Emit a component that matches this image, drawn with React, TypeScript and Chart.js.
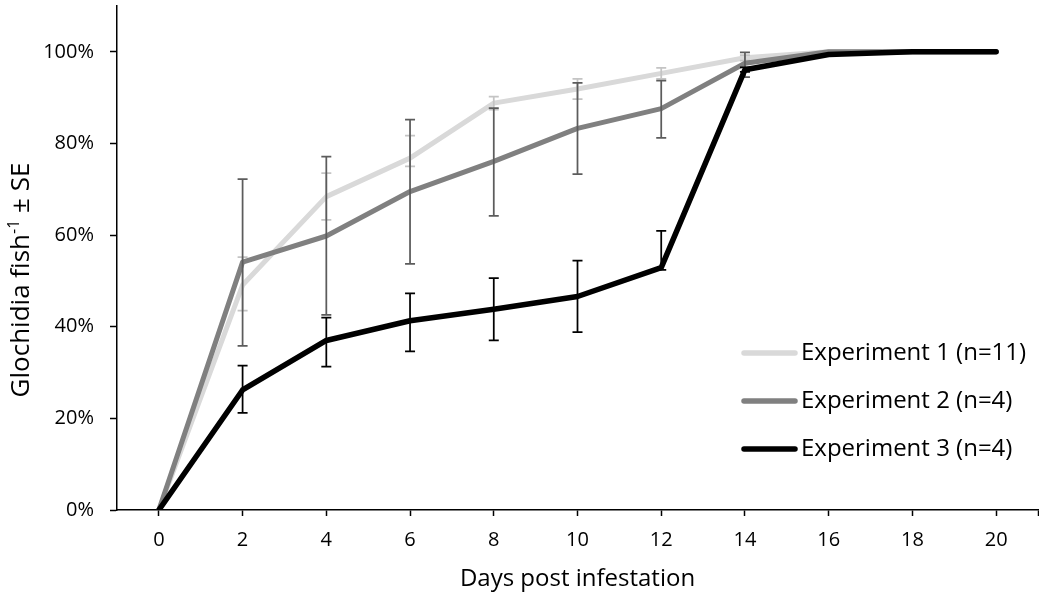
import React, { useEffect, useRef } from 'react';
import { Chart, registerables } from 'chart.js';

Chart.register(...registerables);

// ---- data ----
const days = [0, 2, 4, 6, 8, 10, 12, 14, 16, 18, 20];
const xTickValues = [0, 2, 4, 6, 8, 10, 12, 14, 16, 18, 20];
const yTickValues = [0, 20, 40, 60, 80, 100];
const seriesLabels = ['Experiment 1 (n=11)', 'Experiment 2 (n=4)', 'Experiment 3 (n=4)'];

const exp1Mean = [0, 49.1, 68.4, 76.8, 88.8, 91.9, 95.3, 98.7, 100, 100, 100];
const exp1Up = [0, 6.1, 5.1, 4.9, 1.4, 2.2, 1.2, 0.6, 0, 0, 0];
const exp1Down = [0, 5.6, 5.1, 1.8, 1.4, 2.2, 1.2, 0.6, 0, 0, 0];

const exp2Mean = [0, 54.1, 59.8, 69.5, 76.1, 83.3, 87.6, 97.5, 100, 100, 100];
const exp2Up = [0, 18.1, 17.3, 15.7, 11.6, 9.9, 6.1, 2.4, 0, 0, 0];
const exp2Down = [0, 18.3, 17.2, 15.8, 11.9, 10.0, 6.4, 3.0, 0, 0, 0];

const exp3Mean = [0, 26.2, 37.0, 41.3, 43.8, 46.6, 52.9, 96.1, 99.4, 100, 100];
const exp3Up = [0, 5.3, 5.0, 6.0, 6.8, 7.8, 8.0, 0.5, 0, 0, 0];
const exp3Down = [0, 5.0, 5.7, 6.7, 6.8, 7.8, 0.5, 0.5, 0, 0, 0];

const xTitle = 'Days post infestation';
const yTitleMain = 'Glochidia fish';
const yTitleSup = '-1';
const yTitleEnd = ' \u00B1 SE';

// ---- styles ----
const FONT = '"Open Sans", "Noto Sans", sans-serif';
const lineColors = ['#d9d9d9', '#808080', '#000000'];
const errColors = ['#c4c4c4', '#5c5c5c', '#000000'];

const errorBarPlugin = {
  id: 'errorBars',
  afterDatasetDraw(chart: any, args: any) {
    const ds = chart.data.datasets[args.index];
    const up: number[] = ds.errUp;
    const down: number[] = ds.errDown;
    if (!up) return;
    const xs = chart.scales.x;
    const ys = chart.scales.y;
    const ctx = chart.ctx;
    ctx.save();
    ctx.strokeStyle = ds.errColor;
    ctx.lineWidth = 1.75;
    ds.data.forEach((p: any, i: number) => {
      if (!up[i] && !down[i]) return;
      const px = xs.getPixelForValue(p.x);
      const yT = ys.getPixelForValue(p.y + up[i]);
      const yB = ys.getPixelForValue(p.y - down[i]);
      ctx.beginPath();
      ctx.moveTo(px, yT);
      ctx.lineTo(px, yB);
      ctx.moveTo(px - 5, yT);
      ctx.lineTo(px + 5, yT);
      ctx.moveTo(px - 5, yB);
      ctx.lineTo(px + 5, yB);
      ctx.stroke();
    });
    ctx.restore();
  },
};

const legendPlugin = {
  id: 'customLegend',
  afterDraw(chart: any) {
    const ctx = chart.ctx;
    ctx.save();
    chart.data.datasets.forEach((ds: any, i: number) => {
      const y = 353 + i * 48;
      ctx.strokeStyle = ds.borderColor;
      ctx.lineWidth = 5.5;
      ctx.lineCap = 'round';
      ctx.beginPath();
      ctx.moveTo(744, y);
      ctx.lineTo(795, y);
      ctx.stroke();
      ctx.fillStyle = '#000';
      ctx.font = `24px ${FONT}`;
      ctx.textBaseline = 'middle';
      ctx.textAlign = 'left';
      ctx.fillText(ds.label, 801, y);
    });
    ctx.restore();
  },
};

const yTitlePlugin = {
  id: 'yTitle',
  afterDraw(chart: any) {
    const ctx = chart.ctx;
    ctx.save();
    ctx.translate(22, 280);
    ctx.rotate(-Math.PI / 2);
    ctx.fillStyle = '#000';
    ctx.textBaseline = 'middle';
    ctx.textAlign = 'left';
    const big = `26px ${FONT}`;
    const small = `16px ${FONT}`;
    ctx.font = big;
    const w1 = ctx.measureText(yTitleMain).width;
    const w3 = ctx.measureText(yTitleEnd).width;
    ctx.font = small;
    const w2 = ctx.measureText(yTitleSup).width;
    const total = w1 + w2 + w3;
    let x = -total / 2;
    ctx.font = big;
    ctx.fillText(yTitleMain, x, 0);
    x += w1;
    ctx.font = small;
    ctx.fillText(yTitleSup, x, -8);
    x += w2;
    ctx.font = big;
    ctx.fillText(yTitleEnd, x, 0);
    ctx.restore();
  },
};

function makeDataset(label: string, mean: number[], up: number[], down: number[], i: number, order: number) {
  return {
    label,
    data: days.map((d, k) => ({ x: d, y: mean[k] })),
    borderColor: lineColors[i],
    backgroundColor: lineColors[i],
    borderWidth: i === 2 ? 5.5 : 5,
    pointRadius: 0,
    tension: 0,
    borderJoinStyle: 'round',
    borderCapStyle: 'round',
    order,
    errUp: up,
    errDown: down,
    errColor: errColors[i],
  };
}

export default function App() {
  const ref = useRef<HTMLCanvasElement | null>(null);
  useEffect(() => {
    if (!ref.current) return;
    const chart = new Chart(ref.current, {
      type: 'line',
      data: {
        datasets: [
          makeDataset(seriesLabels[0], exp1Mean, exp1Up, exp1Down, 0, 3),
          makeDataset(seriesLabels[1], exp2Mean, exp2Up, exp2Down, 1, 2),
          makeDataset(seriesLabels[2], exp3Mean, exp3Up, exp3Down, 2, 1),
        ] as any,
      },
      options: {
        animation: false,
        responsive: false,
        devicePixelRatio: 1,
        layout: { padding: { top: 6, right: 1, left: 0, bottom: 0 } },
        plugins: { legend: { display: false }, tooltip: { enabled: false } },
        scales: {
          x: {
            type: 'linear',
            min: -1,
            max: 21,
            afterBuildTicks: (s: any) => {
              s.ticks = [...xTickValues, 21].map((v) => ({ value: v }));
            },
            afterFit: (s: any) => {
              s.height = 89;
              s.paddingLeft = 0;
              s.paddingRight = 0;
              s.paddingTop = 0;
              s.paddingBottom = 0;
            },
            ticks: {
              autoSkip: false,
              maxRotation: 0,
              padding: 12,
              color: '#000',
              font: { family: FONT, size: 20 },
              callback: (v: any) => (xTickValues.includes(v) ? String(v) : ''),
            },
            grid: { drawOnChartArea: false, drawTicks: true, tickLength: 6, tickColor: '#000', tickWidth: 1.5 },
            border: { display: true, color: '#000', width: 1.5 },
            title: {
              display: true,
              text: xTitle,
              color: '#000',
              font: { family: FONT, size: 24 },
              padding: { top: 0, bottom: 5 },
            },
          },
          y: {
            type: 'linear',
            min: 0,
            max: 110,
            afterBuildTicks: (s: any) => {
              s.ticks = yTickValues.map((v) => ({ value: v }));
            },
            afterFit: (s: any) => {
              s.width = 117;
              s.paddingLeft = 0;
              s.paddingRight = 0;
              s.paddingTop = 0;
              s.paddingBottom = 0;
            },
            ticks: {
              padding: 16,
              color: '#000',
              font: { family: FONT, size: 20 },
              callback: (v: any) => `${v}%`,
            },
            grid: { drawOnChartArea: false, drawTicks: true, tickLength: 7, tickColor: '#000', tickWidth: 1.5 },
            border: { display: true, color: '#000', width: 1.5 },
          },
        },
      } as any,
      plugins: [errorBarPlugin, legendPlugin, yTitlePlugin],
    });
    return () => chart.destroy();
  }, []);
  return (
    <div style={{ position: 'absolute', left: 0, top: 0, width: 1039, height: 599, background: '#fff' }}>
      <canvas ref={ref} width={1039} height={599} style={{ width: 1039, height: 599, display: 'block' }} />
    </div>
  );
}
